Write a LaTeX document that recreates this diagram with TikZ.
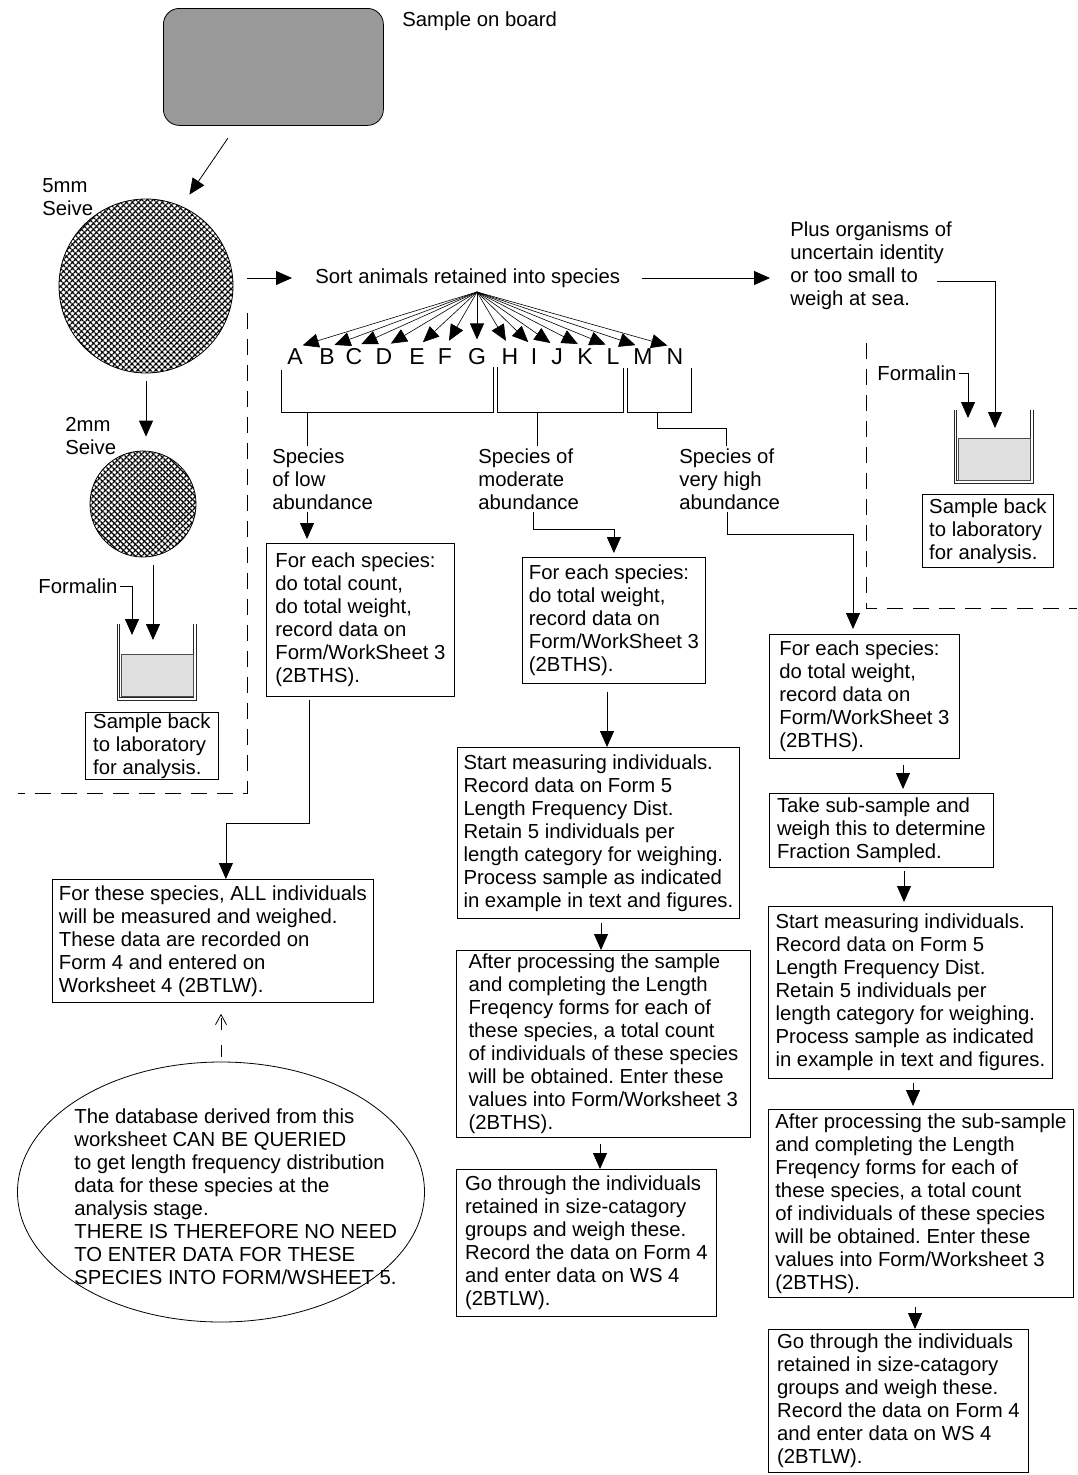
\documentclass[tikz,border=0pt]{standalone}
\usepackage{fontspec}
\setmainfont{Liberation Sans}
\usetikzlibrary{arrows.meta,shapes.geometric,patterns.meta}
\frenchspacing

\newcommand{\flowfont}{\fontsize{20.3}{23}\selectfont}
\newcommand{\letterfont}{\fontsize{23}{26}\selectfont}

\tikzset{
  stepbox/.style={draw, anchor=north west, align=left, inner sep=0pt},
  txt/.style={align=left, inner sep=2pt},
  letter/.style={font=\letterfont, inner sep=1pt},
  arr/.style={-{Triangle[length=16pt,width=14pt]}},
  dasharr/.style={-{Straight Barb[length=10pt,width=11pt]}, dash pattern=on 12pt off 15pt},
  boundary/.style={dash pattern=on 16pt off 10pt},
  sieve/.style={circle, draw, inner sep=0pt, fill=white,
    postaction={pattern={Lines[angle=45,distance=4pt,line width=1.6pt]}},
    postaction={pattern={Lines[angle=-45,distance=4pt,line width=1.6pt]}}},
  beaker/.style={draw=black!85, line width=0.7pt},
  liquid/.style={draw=black!70, fill=black!12, anchor=north west, inner sep=0pt},
}

\begin{document}
\begin{tikzpicture}[x=1pt,y=-1pt,font=\flowfont,line width=0.8pt]
  \useasboundingbox (0,0) rectangle (1077,1475);

  % sample and sieves
  \node[draw, fill=black!40, rounded corners=16pt, minimum width=220pt, minimum height=117pt, anchor=north west] (board) at (163,8) {};
  \node[txt, anchor=west] (boardlab) at (400,21) {Sample on board};
  \node[sieve, minimum size=174pt] (sieve5) at (146,286) {};
  \node[txt, anchor=west] (sieve5lab) at (40,197) {5mm\\Seive};
  \node[sieve, minimum size=106pt] (sieve2) at (143,504) {};
  \node[txt, anchor=west] (sieve2lab) at (63,436) {2mm\\Seive};

  \coordinate (boardout) at (228,138);
  \draw[arr, shorten >=14pt] (boardout) -- (sieve5.66);
  \draw[arr, shorten <=8pt, shorten >=14pt] (sieve5.south) -- (sieve5.south |- sieve2.north);

  % left beaker
  \draw[beaker] (117,624) -- (117,700) -- (196,700) -- (196,624);
  \draw[beaker] (119.5,624) -- (119.5,697.5) -- (193.5,697.5) -- (193.5,624);
  \node[liquid, minimum width=72pt, minimum height=42pt] (liquid1) at (121,654) {};
  \node[stepbox, minimum width=133pt, minimum height=67pt] (back1) at (85,712) {Sample back\\to laboratory\\for analysis.};
  \node[txt, anchor=west] (form1) at (36,586) {Formalin};
  \coordinate (bk1form) at (132,635);
  \coordinate (bk1in) at (153,640);
  \draw[arr] (form1.east) -| (bk1form);
  \draw[arr, shorten <=8pt] (bk1in |- sieve2.south) -- (bk1in);

  % sorting
  \node[txt, anchor=west] (sortlab) at (313,278) {Sort animals retained into species};
  \coordinate (sortin) at (247,278);
  \draw[arr, shorten >=21pt] (sortin) -- (sortlab.west);
  \node[txt, anchor=west] (pluslab) at (788,266) {Plus organisms of\\uncertain identity\\or too small to\\weigh at sea.};
  \draw[arr, shorten >=18pt] ([xshift=20pt]sortlab.east) -- (pluslab.west |- sortlab.east);

  % right beaker
  \draw[beaker] (954,410) -- (954,483) -- (1033,483) -- (1033,410);
  \draw[beaker] (956.5,410) -- (956.5,480.5) -- (1030.5,480.5) -- (1030.5,410);
  \node[liquid, minimum width=72pt, minimum height=42pt] (liquid2) at (958,438) {};
  \node[stepbox, minimum width=131pt, minimum height=73pt] (back2) at (922,494) {Sample back\\to laboratory\\for analysis.};
  \node[txt, anchor=west] (form2) at (875,373) {Formalin};
  \coordinate (plusout) at (937,281);
  \coordinate (bk2in) at (995,428);
  \coordinate (bk2form) at (968,418);
  \draw[arr] (plusout) -| (bk2in);
  \draw[arr] (form2.east) -| (bk2form);

  % boundaries
  \draw[boundary] (247,313) -- (247,793) -- (18,793);
  \draw[boundary] (866,343) -- (866,608) -- (1077,608);

  % species fan
  \coordinate (fanroot) at (477,292);
  \foreach \l/\lx in {A/295,B/327,C/354,D/384,E/417,F/445,G/477,H/510,I/534,J/557,K/585,L/613,M/643,N/675}{
    \node[letter] (l\l) at (\lx,357) {\l};
    \draw[arr, line width=0.6pt, shorten >=8pt] (fanroot) -- (l\l.north);
  }
  \draw (281,370) |- (493,412) -- (493,367);
  \draw (497,367) |- (623,412) -- (623,368);
  \draw (627,368) |- (691,412) -- (691,368);
  \coordinate (grp1) at (307,412);
  \coordinate (grp2) at (537,412);
  \coordinate (grp3) at (657,412);

  \node[txt, anchor=west] (lowlab) at (270,479) {Species\\of low\\abundance};
  \node[txt, anchor=west] (modlab) at (476,479) {Species of\\moderate\\abundance};
  \node[txt, anchor=west] (highlab) at (677,479) {Species of\\very high\\abundance};
  \coordinate (hjog) at (726,428);
  \draw (grp1) -- (grp1 |- lowlab.north);
  \draw (grp2) -- (grp2 |- modlab.north);
  \draw (grp3) |- (hjog) -- (hjog |- highlab.north);

  % low abundance
  \node[stepbox, minimum width=188pt, minimum height=153pt] (lowbox) at (266,543) {For each species:\\do total count,\\do total weight,\\record data on\\Form/WorkSheet 3\\(2BTHS).};
  \node[stepbox, minimum width=321pt, minimum height=123pt] (allbox) at (52,879) {For these species, ALL individuals\\will be measured and weighed.\\These data are recorded on\\Form 4 and entered on\\Worksheet 4 (2BTLW).};
  \node[ellipse, draw, minimum width=407pt, minimum height=260pt, inner sep=0pt] (dbnote) at (221,1192) {};
  \node[txt, anchor=west] (dbtext) at (72,1197) {The database derived from this\\worksheet CAN BE QUERIED\\to get length frequency distribution\\data for these species at the\\analysis stage.\\THERE IS THEREFORE NO NEED\\TO ENTER DATA FOR THESE\\SPECIES INTO FORM/WSHEET 5.};
  \coordinate (lowout) at (309,823);
  \draw[arr, shorten >=4pt] (grp1 |- lowlab.south) -- (grp1 |- lowbox.north);
  \draw[arr, shorten <=3pt] (lowout |- lowbox.south) -- (lowout) -| ([xshift=13pt]allbox.north);
  \draw[dasharr, shorten <=5pt, shorten >=11pt] (dbnote.north) -- (dbnote.north |- allbox.south);

  % moderate abundance
  \node[stepbox, minimum width=183pt, minimum height=126pt] (modbox) at (522,557) {For each species:\\do total weight,\\record data on\\Form/WorkSheet 3\\(2BTHS).};
  \node[stepbox, minimum width=282pt, minimum height=171pt] (modmeas) at (457,747) {Start measuring individuals.\\Record data on Form 5\\Length Frequency Dist.\\Retain 5 individuals per\\length category for weighing.\\Process sample as indicated\\in example in text and figures.};
  \node[stepbox, minimum width=294pt, minimum height=187pt] (modcount) at (456,950) {After processing the sample\\and completing the Length\\Freqency forms for each of\\these species, a total count\\of individuals of these species\\will be obtained. Enter these\\values into Form/Worksheet 3\\(2BTHS).};
  \node[stepbox, minimum width=260pt, minimum height=147pt] (modweigh) at (456,1169) {Go through the individuals\\retained in size-catagory\\groups and weigh these.\\Record the data on Form 4\\and enter data on WS 4\\(2BTLW).};
  \coordinate (modjog) at (533,529);
  \coordinate (mx1) at (607,0);
  \coordinate (mx2) at (601,0);
  \coordinate (mx3) at (600,0);
  \draw[arr, shorten >=4pt] (modjog |- modlab.south) -- (modjog) -| (modbox.north);
  \draw[arr, shorten <=8pt] (mx1 |- modbox.south) -- (mx1 |- modmeas.north);
  \draw[arr, shorten <=4pt] (mx2 |- modmeas.south) -- (mx2 |- modcount.north);
  \draw[arr, shorten <=6pt] (mx3 |- modcount.south) -- (mx3 |- modweigh.north);

  % very high abundance
  \node[stepbox, minimum width=190pt, minimum height=124pt] (highbox) at (769,634) {For each species:\\do total weight,\\record data on\\Form/WorkSheet 3\\(2BTHS).};
  \node[stepbox, minimum width=224pt, minimum height=74pt] (highsub) at (769,793) {Take sub-sample and\\weigh this to determine\\Fraction Sampled.};
  \node[stepbox, minimum width=284pt, minimum height=172pt] (highmeas) at (768,906) {Start measuring individuals.\\Record data on Form 5\\Length Frequency Dist.\\Retain 5 individuals per\\length category for weighing.\\Process sample as indicated\\in example in text and figures.};
  \node[stepbox, minimum width=305pt, minimum height=188pt] (highcount) at (768,1109) {After processing the sub-sample\\and completing the Length\\Freqency forms for each of\\these species, a total count\\of individuals of these species\\will be obtained. Enter these\\values into Form/Worksheet 3\\(2BTHS).};
  \node[stepbox, minimum width=260pt, minimum height=143pt] (highweigh) at (768,1329) {Go through the individuals\\retained in size-catagory\\groups and weigh these.\\Record the data on Form 4\\and enter data on WS 4\\(2BTLW).};
  \coordinate (highjog) at (727,534);
  \coordinate (highin) at (853,0);
  \coordinate (hx1) at (903,0);
  \coordinate (hx2) at (904,0);
  \coordinate (hx3) at (913,0);
  \coordinate (hx4) at (915,0);
  \draw[arr, shorten >=5pt] (highjog |- highlab.south) -- (highjog) -| (highin |- highbox.north);
  \draw[arr, shorten <=6pt, shorten >=4pt] (hx1 |- highbox.south) -- (hx1 |- highsub.north);
  \draw[arr, shorten <=3pt, shorten >=4pt] (hx2 |- highsub.south) -- (hx2 |- highmeas.north);
  \draw[arr, shorten <=4pt, shorten >=3pt] (hx3 |- highmeas.south) -- (hx3 |- highcount.north);
  \draw[arr, shorten <=9pt] (hx4 |- highcount.south) -- (hx4 |- highweigh.north);
\end{tikzpicture}
\end{document}
